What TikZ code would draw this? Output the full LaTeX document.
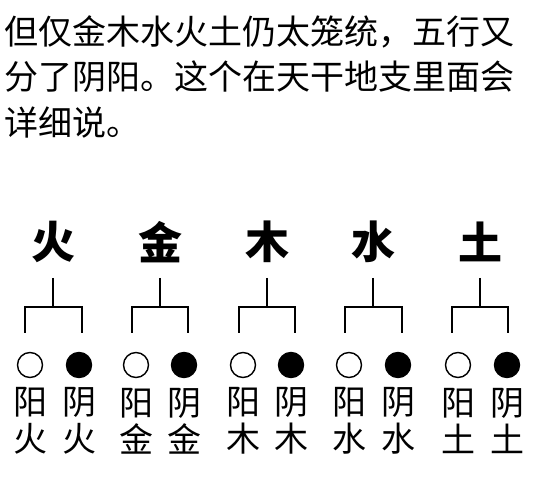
\documentclass[tikz,border=0pt]{standalone}
\usepackage{fontspec}
\setmainfont{Noto Sans CJK SC}
\newfontfamily\cjk{Noto Sans CJK SC}
\usetikzlibrary{positioning}
\tikzset{
    intro/.style={anchor=north west, align=left, inner sep=0pt, font=\cjk\fontsize{34}{45.5}\selectfont},
    elem/.style={inner sep=0pt, font=\cjk\bfseries\fontsize{44}{44}\selectfont},
    yangc/.style={circle, draw, line width=1.4pt, fill=white, minimum size=25pt, inner sep=0pt},
    yinc/.style={circle, draw, line width=1.4pt, fill=black, minimum size=25pt, inner sep=0pt},
    lab/.style={align=center, inner sep=0pt, font=\cjk\fontsize{34}{37}\selectfont},
    fork/.style={line width=1.6pt},
}

\begin{document}
\begin{tikzpicture}[x=1pt, y=-1pt]

\useasboundingbox[fill=white] (0,0) rectangle (539,486);

\node[intro] (txt) at (4,15) {但仅金木水火土仍太笼统，五行又\\分了阴阳。这个在天干地支里面会\\详细说。};

% ── 火 ──
\node[elem] (huo) at (53,242) {火};
\coordinate (huo-top) at (53,278);
\coordinate (huo-j) at (53,307);
\coordinate (huo-l) at (25,333);
\coordinate (huo-r) at (82,333);
\node[yangc] (huo-yang) at (30,365) {};
\node[yinc] (huo-yin) at (79,365) {};
\node[lab] at (30,421) {阳\\火};
\node[lab] at (79,421) {阴\\火};

% ── 金 ──
\node[elem] (jin) at (160,242) {金};
\coordinate (jin-top) at (160,278);
\coordinate (jin-j) at (160,307);
\coordinate (jin-l) at (132,333);
\coordinate (jin-r) at (188,333);
\node[yangc] (jin-yang) at (136,365) {};
\node[yinc] (jin-yin) at (184,365) {};
\node[lab] at (136,421) {阳\\金};
\node[lab] at (184,421) {阴\\金};

% ── 木 ──
\node[elem] (mu) at (267,242) {木};
\coordinate (mu-top) at (267,278);
\coordinate (mu-j) at (267,307);
\coordinate (mu-l) at (239,333);
\coordinate (mu-r) at (295,333);
\node[yangc] (mu-yang) at (243,365) {};
\node[yinc] (mu-yin) at (291,365) {};
\node[lab] at (243,421) {阳\\木};
\node[lab] at (291,421) {阴\\木};

% ── 水 ──
\node[elem] (shui) at (373,242) {水};
\coordinate (shui-top) at (373,278);
\coordinate (shui-j) at (373,307);
\coordinate (shui-l) at (345,333);
\coordinate (shui-r) at (402,333);
\node[yangc] (shui-yang) at (349,365) {};
\node[yinc] (shui-yin) at (398,365) {};
\node[lab] at (349,421) {阳\\水};
\node[lab] at (398,421) {阴\\水};

% ── 土 ──
\node[elem] (tu) at (480,242) {土};
\coordinate (tu-top) at (480,278);
\coordinate (tu-j) at (480,307);
\coordinate (tu-l) at (452,333);
\coordinate (tu-r) at (508,333);
\node[yangc] (tu-yang) at (458,365) {};
\node[yinc] (tu-yin) at (507,365) {};
\node[lab] at (458,421) {阳\\土};
\node[lab] at (507,421) {阴\\土};

% ── Forks ──
\draw[fork] (huo-top) -- (huo-j);
\draw[fork] (huo-l) |- (huo-j) -| (huo-r);
\draw[fork] (jin-top) -- (jin-j);
\draw[fork] (jin-l) |- (jin-j) -| (jin-r);
\draw[fork] (mu-top) -- (mu-j);
\draw[fork] (mu-l) |- (mu-j) -| (mu-r);
\draw[fork] (shui-top) -- (shui-j);
\draw[fork] (shui-l) |- (shui-j) -| (shui-r);
\draw[fork] (tu-top) -- (tu-j);
\draw[fork] (tu-l) |- (tu-j) -| (tu-r);

\end{tikzpicture}
\end{document}
